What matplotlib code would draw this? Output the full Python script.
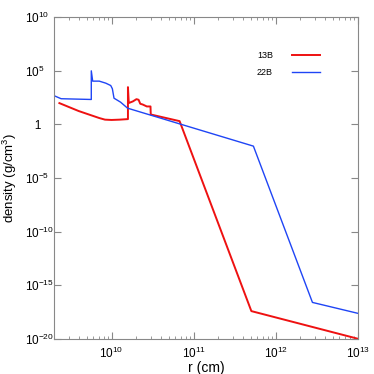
import numpy as np
import matplotlib
matplotlib.use("Agg")
import matplotlib.pyplot as plt
from matplotlib.ticker import LogLocator, NullFormatter

plt.rcParams['font.family'] = ['Liberation Sans', 'DejaVu Sans']
plt.rcParams['mathtext.fontset'] = 'custom'
plt.rcParams['mathtext.rm'] = 'Liberation Sans'
plt.rcParams['mathtext.it'] = 'Liberation Sans:italic'
plt.rcParams['mathtext.bf'] = 'Liberation Sans:bold'

# log10 of r (cm) and density (g/cm^3)
logr_13B = [9.364, 9.6, 9.85, 9.92, 10.0, 10.1, 10.2, 10.2, 10.21, 10.26, 10.304,
            10.33, 10.35, 10.38, 10.43, 10.475, 10.478, 10.83, 11.705, 13.0]
logd_13B = [1.99, 1.25, 0.6, 0.45, 0.42, 0.45, 0.5, 3.48, 2.0, 2.15, 2.36,
            2.3, 1.93, 1.86, 1.68, 1.68, 0.93, 0.31, -17.4, -19.97]

logr_22B = [9.303, 9.385, 9.753, 9.753, 9.77, 9.85, 9.93, 9.99, 10.01, 10.03,
            10.11, 10.195, 11.73, 12.45, 13.0]
logd_22B = [2.67, 2.4, 2.33, 5.0, 4.04, 4.04, 3.85, 3.63, 3.33, 2.45,
            2.08, 1.52, -2.02, -16.59, -17.6]

xticks = [1e10, 1e11, 1e12, 1e13]
xlabels = ['$10^{10}$', '$10^{11}$', '$10^{12}$', '$10^{13}$']
yticks = [1e-20, 1e-15, 1e-10, 1e-5, 1, 1e5, 1e10]
ylabels = ['$10^{-20}$', '$10^{-15}$', '$10^{-10}$', '$10^{-5}$', '   1', '$10^{5}$', '$10^{10}$']

fig = plt.figure(figsize=(3.74, 3.74), dpi=100)
ax = fig.add_axes([0.145, 0.0936, 0.811, 0.8604])

ax.plot(10**np.array(logr_13B), 10**np.array(logd_13B), color='#ee1111', lw=1.4, label='13B')
ax.plot(10**np.array(logr_22B), 10**np.array(logd_22B), color='#1f45f5', lw=1.0, label='22B')

ax.set_xscale('log')
ax.set_yscale('log')
ax.set_xlim(2e9, 1e13)
ax.set_ylim(1e-20, 1e10)

ax.set_xticks(xticks)
ax.set_xticklabels(xlabels)
ax.xaxis.set_minor_locator(LogLocator(base=10, subs=np.arange(2, 10)))
ax.xaxis.set_minor_formatter(NullFormatter())
ax.set_yticks(yticks)
ax.set_yticklabels(ylabels)
ax.yaxis.set_minor_locator(plt.NullLocator())

ax.tick_params(which='both', direction='in', top=True, right=True, colors='#888888',
               labelcolor='black', labelsize=8.5)
ax.tick_params(which='major', length=5, width=0.8)
ax.tick_params(axis='x', which='major', pad=5)
ax.tick_params(axis='y', which='major', pad=21)
ax.tick_params(which='minor', length=2.5, width=0.6)
for lab in ax.get_yticklabels():
    lab.set_horizontalalignment('left')
for s in ax.spines.values():
    s.set_color('#888888')
    s.set_linewidth(0.8)

ax.set_xlabel('r (cm)', fontsize=10, labelpad=0)
fig.text(10 / 374, 1 - 178 / 374, 'density (g/cm$^3$)', fontsize=9.5,
         rotation=90, ha='center', va='center')

leg = ax.legend(loc='upper right', bbox_to_anchor=(0.876, 0.894), frameon=False,
                fontsize=6.5, markerfirst=False, handlelength=3.1, handletextpad=2.1,
                labelspacing=0.9, borderpad=0, borderaxespad=0)

fig.savefig('out.png', dpi=100)
